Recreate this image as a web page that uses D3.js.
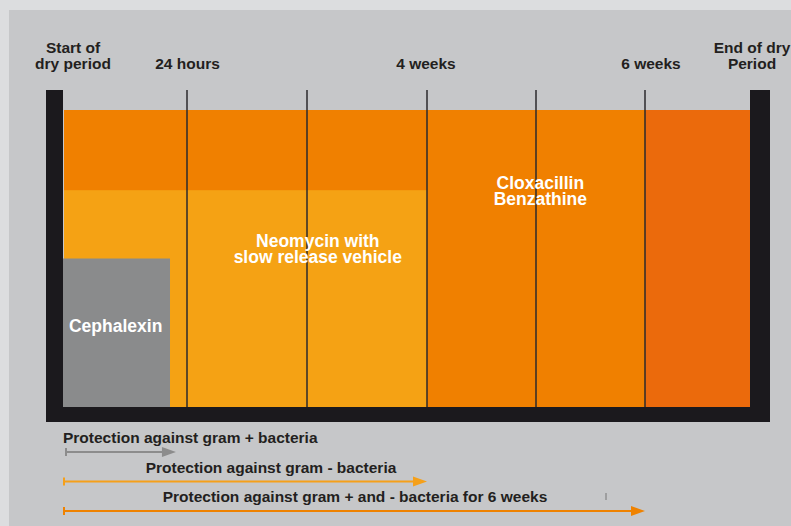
<!DOCTYPE html>
<html lang="en">
<head>
<meta charset="UTF-8">
<title>Dry period protection</title>
<script src="https://cdn.jsdelivr.net/npm/d3@7/dist/d3.min.js"></script>
<style>
  body { margin: 0; background: #dcdddf; }
  text { font-family: "Liberation Sans", Arial, sans-serif; font-weight: bold; }
</style>
</head>
<body>
<div id="chart"></div>
<script>
// milestones along the dry period (grid units)
var milestones = [
  {label: ["Start of", "dry period"], pos: 0},
  {label: ["24 hours"], pos: 1},
  {label: ["4 weeks"], pos: 3},
  {label: ["6 weeks"], pos: 5},
  {label: ["End of dry", "Period"], pos: 6}
];
var gridLines = [1, 2, 3, 4, 5];

// coloured blocks: x in grid units, y in % of height
var blocks = [
  {name: "clox", x0: 0, x1: 5, y0: 0, y1: 100, color: "#f08000"},
  {name: "late", x0: 5, x1: 6, y0: 0, y1: 100, color: "#eb6a0c"},
  {name: "neo", x0: 0, x1: 3, y0: 0, y1: 73, color: "#f5a214"},
  {name: "ceph", x0: 0, x1: 0.87, y0: 0, y1: 50, color: "#8a8b8c"}
];
var blockLabels = [
  {text: ["Cloxacillin", "Benzathine"], x: 4.04, y: 73.4},
  {text: ["Neomycin with", "slow release vehicle"], x: 2.09, y: 53.9},
  {text: ["Cephalexin"], x: 0.42, y: 25.3}
];

// protection arrows
var arrows = [
  {text: "Protection against gram + bacteria", end: 0.91, color: "#8c8c8c", tx: 0, anchor: "start", row: 0},
  {text: "Protection against gram - bacteria", end: 3, color: "#f5a01a", tx: 1.7, anchor: "middle", row: 1},
  {text: "Protection against gram + and - bacteria for 6 weeks", end: 5, color: "#ef8200", tx: 2.4, anchor: "middle", row: 2}
];

var width = 791, height = 526;
var svg = d3.select("#chart").append("svg")
  .attr("width", width).attr("height", height);

svg.append("rect").attr("x", 9).attr("y", 10)
  .attr("width", width - 9).attr("height", height - 10)
  .attr("fill", "#c6c7c9");

// piecewise time scale: 24h and week marks are not evenly spaced in time
var x = d3.scaleLinear().domain([0, 1, 3, 5, 6]).range([64, 187, 427, 645, 750]);
var y = d3.scaleLinear().domain([0, 100]).range([407, 110]);

var g = svg.append("g");

g.selectAll("rect.block").data(blocks).enter().append("rect")
  .attr("class", "block")
  .attr("x", d => x(d.x0) - (d.name === "ceph" ? 1 : 0))
  .attr("y", d => y(d.y1))
  .attr("width", d => x(d.x1) - x(d.x0))
  .attr("height", d => y(d.y0) - y(d.y1))
  .attr("fill", d => d.color);

// grid lines
g.selectAll("line.grid").data(gridLines).enter().append("line")
  .attr("x1", d => x(d)).attr("x2", d => x(d))
  .attr("y1", 90).attr("y2", y(0))
  .attr("stroke", "#2b2a2c").attr("stroke-width", 1.5);

// black bracket
var dark = "#1b191d";
g.append("rect").attr("x", x(0) - 18).attr("y", 90).attr("width", 17).attr("height", 332).attr("fill", dark);
g.append("rect").attr("x", x(6)).attr("y", 90).attr("width", 20).attr("height", 332).attr("fill", dark);
g.append("rect").attr("x", x(0) - 18).attr("y", y(0)).attr("width", x(6) - x(0) + 38).attr("height", 15).attr("fill", dark);

// milestone labels
var labelShift = {0: 9, 1: 0.5, 3: -1, 5: 6, 6: 2};
milestones.forEach(function(m) {
  var t = svg.append("text")
    .attr("text-anchor", "middle")
    .attr("font-size", 15.5)
    .attr("fill", "#231f20");
  var n = m.label.length;
  var cx = x(m.pos) + labelShift[m.pos];
  m.label.forEach(function(line, i) {
    t.append("tspan").attr("x", cx).attr("y", 69 - (n - 1 - i) * 16).text(line);
  });
});

// block labels
blockLabels.forEach(function(b) {
  var t = svg.append("text")
    .attr("text-anchor", "middle")
    .attr("font-size", 17.5)
    .attr("fill", "#ffffff");
  b.text.forEach(function(line, i) {
    t.append("tspan").attr("x", x(b.x)).attr("y", y(b.y) + i * 16).text(line);
  });
});

// arrows
arrows.forEach(function(a) {
  var ay = 452 + a.row * 29.5;
  var x0 = x(0) + (a.row === 0 ? 2 : 0);
  var x1 = x(a.end);
  svg.append("line").attr("x1", x0).attr("x2", x1 - 12).attr("y1", ay).attr("y2", ay)
    .attr("stroke", a.color).attr("stroke-width", 2);
  svg.append("line").attr("x1", x0).attr("x2", x0).attr("y1", ay - 4).attr("y2", ay + 4)
    .attr("stroke", a.color).attr("stroke-width", 2);
  svg.append("path")
    .attr("d", "M" + (x1 - 14) + "," + (ay - 5) + "L" + x1 + "," + ay + "L" + (x1 - 14) + "," + (ay + 5) + "Z")
    .attr("fill", a.color);
  svg.append("text")
    .attr("x", a.anchor === "start" ? x(0) - 1 : x(a.tx))
    .attr("y", ay - 9)
    .attr("text-anchor", a.anchor)
    .attr("font-size", 15.5)
    .attr("fill", "#231f20")
    .text(a.text);
});

// small stray tick
svg.append("line").attr("x1", 606).attr("x2", 606).attr("y1", 493).attr("y2", 500)
  .attr("stroke", "#777").attr("stroke-width", 1);
</script>
</body>
</html>
